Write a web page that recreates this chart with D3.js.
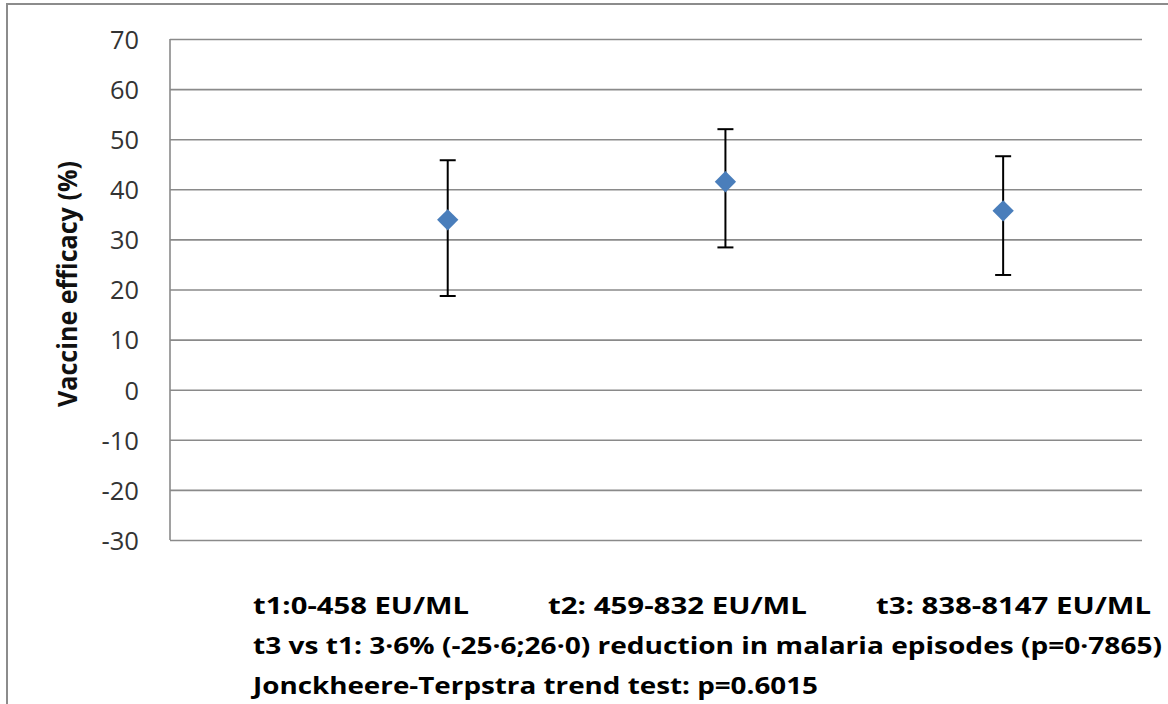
<!DOCTYPE html>
<html>
<head>
<meta charset="utf-8">
<script src="https://cdn.jsdelivr.net/npm/d3@7"></script>
<style>
  html, body { margin: 0; padding: 0; background: #fff; }
  svg { display: block; }
</style>
</head>
<body>
<svg id="chart" width="1168" height="704"></svg>
<script>
// Antibody tertiles (EU/ML) and vaccine efficacy with 95% CI
const tertiles = [1, 2, 3];
const efficacy = [33.9, 41.5, 35.7];
const ciLower = [18.7, 28.4, 22.9];
const ciUpper = [45.8, 52.0, 46.6];
const yTicks = [-30, -20, -10, 0, 10, 20, 30, 40, 50, 60, 70];
const tertileLabels = ["t1:0-458 EU/ML", "t2: 459-832 EU/ML", "t3: 838-8147 EU/ML"];
const footnotes = [
  "t3 vs t1: 3\u00B76% (-25\u00B76;26\u00B70) reduction in malaria episodes (p=0\u00B77865)",
  "Jonckheere-Terpstra trend test: p=0.6015"
];
const yTitle = "Vaccine efficacy (%)";

const svg = d3.select("#chart");
const W = 1168, H = 704;
const plot = { left: 170, right: 1142, top: 39, bottom: 540 };

// outer chart frame
svg.append("rect")
  .attr("x", 7).attr("y", 4)
  .attr("width", W + 20).attr("height", H + 20)
  .attr("fill", "#fff")
  .attr("stroke", "#8c8c8c")
  .attr("stroke-width", 2);

const x = d3.scaleLinear().domain([0, 3.5]).range([plot.left, plot.right]);
const y = d3.scaleLinear().domain([-30, 70]).range([plot.bottom, plot.top]);

// horizontal gridlines
const grid = svg.append("g")
  .attr("transform", `translate(${plot.left},0)`)
  .call(d3.axisLeft(y).tickValues(yTicks).tickSize(-(plot.right - plot.left)).tickFormat(""));
grid.select(".domain").remove();
grid.selectAll(".tick line").attr("stroke", "#8a8a8a").attr("stroke-width", 1.6);

// vertical axis line
svg.append("line")
  .attr("x1", plot.left).attr("x2", plot.left)
  .attr("y1", y(70)).attr("y2", y(-30))
  .attr("stroke", "#8a8a8a").attr("stroke-width", 1.6);

// tick labels (plain hyphen for negatives)
const axis = svg.append("g")
  .attr("transform", `translate(${plot.left},0)`)
  .call(d3.axisLeft(y).tickValues(yTicks).tickSize(0).tickPadding(31).tickFormat(d => String(d)));
axis.select(".domain").remove();
axis.selectAll(".tick text")
  .attr("font-family", "'Open Sans', sans-serif")
  .attr("font-size", 26)
  .attr("fill", "#333")
  .attr("dy", "0.36em")
  .attr("textLength", d => String(d).length * 14.5 + (d < 0 ? -6 : 0))
  .attr("lengthAdjust", "spacingAndGlyphs");

// y-axis title
svg.append("text")
  .attr("transform", `translate(77,${(160 + 408) / 2}) rotate(-90)`)
  .attr("text-anchor", "middle")
  .attr("font-family", "'Open Sans', sans-serif")
  .attr("font-weight", 700)
  .attr("font-size", 26)
  .attr("fill", "#111")
  .attr("textLength", 246)
  .attr("lengthAdjust", "spacingAndGlyphs")
  .text(yTitle);

// error bars
const capHalf = 8;
const bars = svg.append("g").attr("stroke", "#000").attr("stroke-width", 2);
tertiles.forEach((t, i) => {
  const cx = x(t);
  bars.append("line").attr("x1", cx).attr("x2", cx).attr("y1", y(ciUpper[i])).attr("y2", y(ciLower[i]));
  bars.append("line").attr("x1", cx - capHalf).attr("x2", cx + capHalf).attr("y1", y(ciUpper[i])).attr("y2", y(ciUpper[i]));
  bars.append("line").attr("x1", cx - capHalf).attr("x2", cx + capHalf).attr("y1", y(ciLower[i])).attr("y2", y(ciLower[i]));
});

// diamond markers
const diamond = d3.symbol().type(d3.symbolDiamond2).size(290);
svg.append("g").selectAll("path")
  .data(tertiles)
  .join("path")
  .attr("transform", (t, i) => `translate(${x(t)},${y(efficacy[i])})`)
  .attr("d", diamond)
  .attr("fill", "#4a7ebb");

// tertile ranges and footnotes below the plot
const textX = [253, 548, 876];
const textW = [216, 259, 275];
const labelFont = { family: "'Open Sans', sans-serif", size: 24 };
tertileLabels.forEach((lab, i) => {
  svg.append("text")
    .attr("x", textX[i]).attr("y", 614)
    .attr("font-family", labelFont.family)
    .attr("font-weight", 700)
    .attr("font-size", labelFont.size)
    .attr("fill", "#000")
    .attr("textLength", textW[i])
    .attr("lengthAdjust", "spacingAndGlyphs")
    .text(lab);
});
const noteW = [909, 565];
footnotes.forEach((note, i) => {
  svg.append("text")
    .attr("x", 253).attr("y", 654 + i * 40)
    .attr("font-family", labelFont.family)
    .attr("font-weight", 700)
    .attr("font-size", labelFont.size)
    .attr("fill", "#000")
    .attr("textLength", noteW[i])
    .attr("lengthAdjust", "spacingAndGlyphs")
    .text(note);
});
</script>
</body>
</html>
